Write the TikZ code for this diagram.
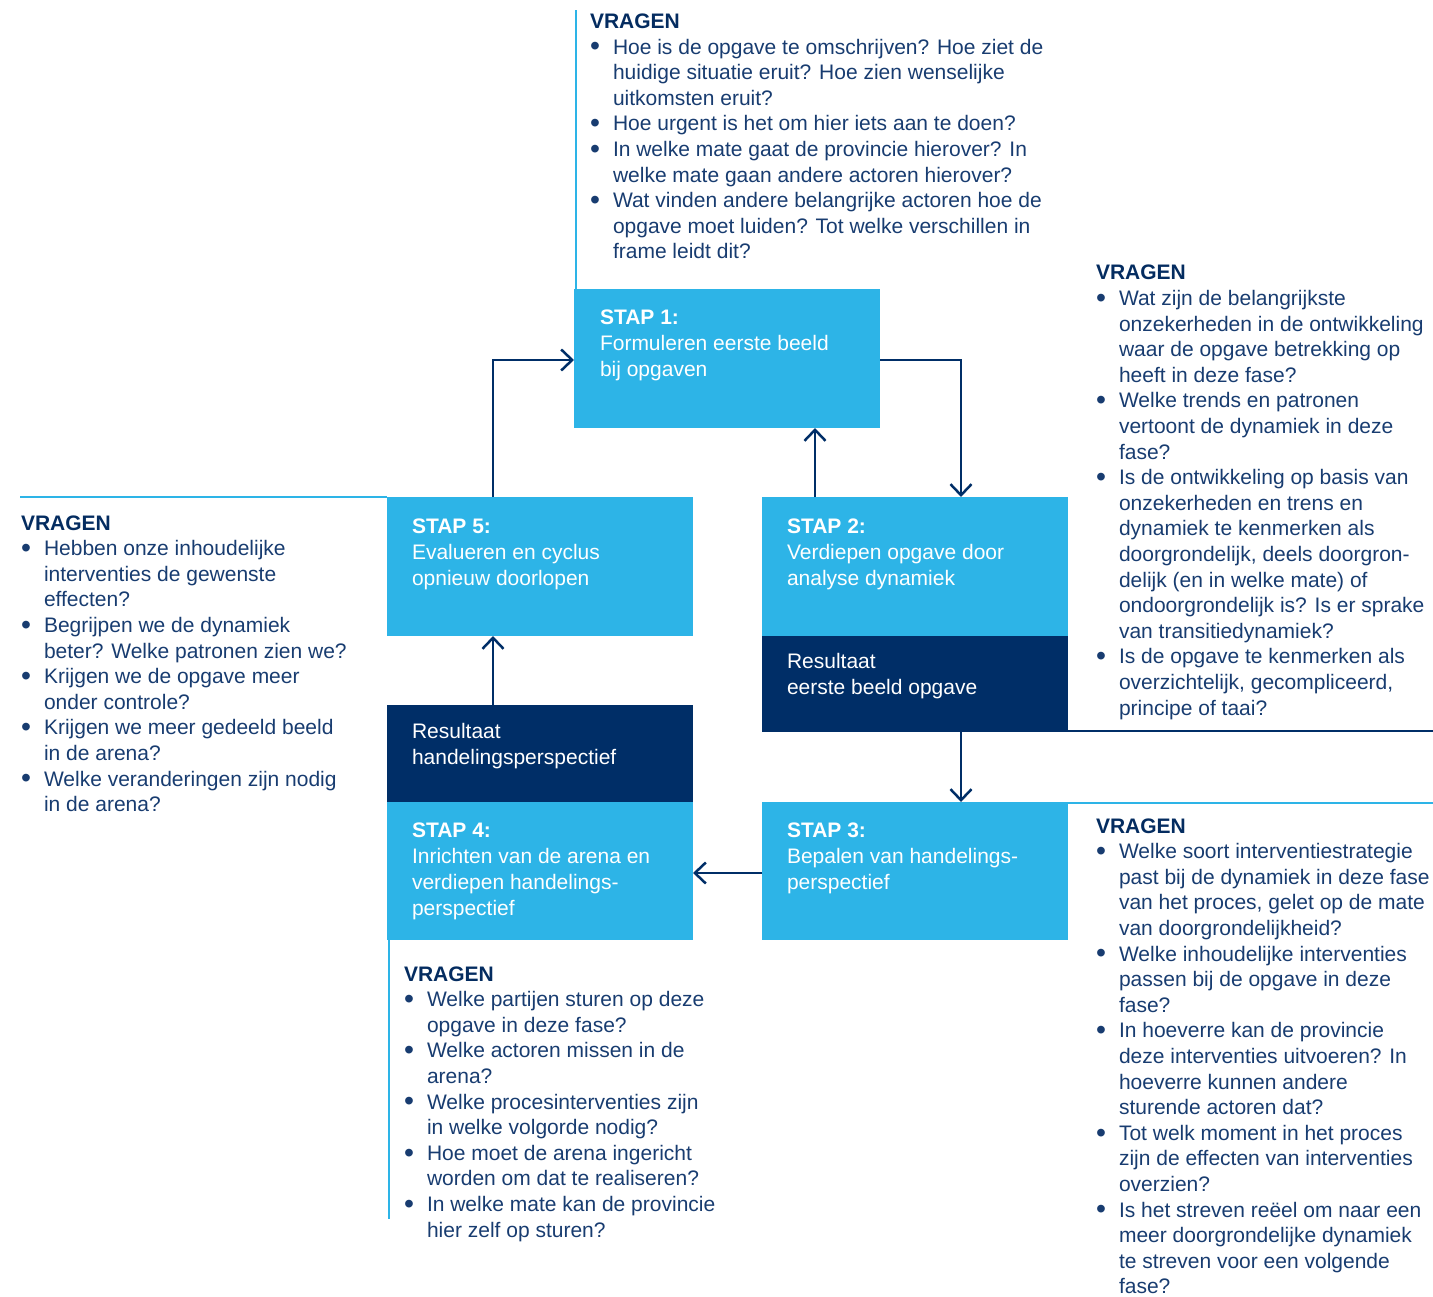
\documentclass[tikz,border=0pt]{standalone}
\usepackage{graphicx}
\usepackage{fontspec}
\setmainfont{Liberation Sans}
\usetikzlibrary{arrows.meta,calc}

\definecolor{lightb}{RGB}{45,180,231}
\definecolor{navy}{RGB}{0,46,103}
\definecolor{qtext}{RGB}{24,60,112}
\definecolor{qhead}{RGB}{4,44,96}

% one line of a question block: heading, bulleted first line, continuation line
\newcommand\qdot{\raisebox{-1.8pt}{\scalebox{1.35}{\textbullet}}}
\newcommand\qhd[1]{\hbox{\bfseries\color{qhead}#1}}
\newcommand\qbul[1]{\hbox{\makebox[23pt][l]{\qdot}#1}}
\newcommand\qcon[1]{\hbox{\kern23pt #1}}
% one line of text inside a step box
\newcommand\bx[1]{\hbox{#1}}

\tikzset{
  stepbox/.style={fill=lightb, draw=none, inner sep=0pt, outer sep=0pt,
    minimum width=306pt, minimum height=139pt, anchor=north west},
  resbox/.style={stepbox, fill=navy, minimum height=96pt},
  qblock/.style={anchor=base west, inner sep=0pt, outer sep=0pt, text=qtext,
    font=\fontsize{21}{25.6}\selectfont},
  boxtext/.style={anchor=base west, inner sep=0pt, outer sep=0pt, text=white,
    font=\fontsize{21}{26}\selectfont},
  arr/.style={draw=navy, line width=2.5pt,
    -{Straight Barb[length=11pt,width=21pt,line width=2.5pt]}},
  sepline/.style={draw=lightb, line width=2.7pt},
  darkline/.style={draw=navy, line width=2.7pt},
}

\begin{document}
\begin{tikzpicture}[x=1pt,y=-1pt]
\useasboundingbox (0,0) rectangle (1433,1297);

% ---------- step and result boxes ----------
\node[stepbox] (s1) at (574,289) {};
\node[stepbox] (s5) at (387,497) {};
\node[stepbox] (s2) at (762,497) {};
\node[resbox]  (r2) at (762,636) {};
\node[resbox, minimum height=97pt] (r4) at (387,705) {};
\node[stepbox, minimum height=138pt] (s4) at (387,802) {};
\node[stepbox, minimum height=138pt] (s3) at (762,802) {};

% ---------- box texts ----------
\node[boxtext] (t1) at ($(s1.north west)+(26,36)$)
  {\vtop{\bx{\bfseries STAP 1:}\bx{Formuleren eerste beeld}\bx{bij opgaven}}};
\node[boxtext] (t5) at ($(s5.north west)+(25,36)$)
  {\vtop{\bx{\bfseries STAP 5:}\bx{Evalueren en cyclus}\bx{opnieuw doorlopen}}};
\node[boxtext] (t2) at ($(s2.north west)+(25,36)$)
  {\vtop{\bx{\bfseries STAP 2:}\bx{Verdiepen opgave door}\bx{analyse dynamiek}}};
\node[boxtext] (tr2) at ($(r2.north west)+(25,32)$)
  {\vtop{\bx{Resultaat}\bx{eerste beeld opgave}}};
\node[boxtext] (tr4) at ($(r4.north west)+(25,33)$)
  {\vtop{\bx{Resultaat}\bx{handelingsperspectief}}};
\node[boxtext] (t4) at ($(s4.north west)+(25,35)$)
  {\vtop{\bx{\bfseries STAP 4:}\bx{Inrichten van de arena en}\bx{verdiepen handelings-}\bx{perspectief}}};
\node[boxtext] (t3) at ($(s3.north west)+(25,35)$)
  {\vtop{\bx{\bfseries STAP 3:}\bx{Bepalen van handelings-}\bx{perspectief}}};

% ---------- separator lines next to the question blocks ----------
\draw[sepline] ([xshift=2pt]s1.north west) -- ++(0,-279);
\draw[sepline] (s5.north west) -- ++(-367,0);
\draw[darkline] ([yshift=1pt]r2.south east) -- ++(365,0);
\draw[sepline] ([yshift=-1pt]s3.north east) -- ++(365,0);
\draw[sepline] ([xshift=2pt]s4.south west) -- ++(0,279);

% ---------- cycle arrows ----------
\draw[arr] ([xshift=106pt]s5.north west) |- ([yshift=-1.5pt]s1.west);
\draw[arr] ([yshift=-1.5pt]s1.east) -| ([xshift=199pt]s2.north west);
\draw[arr] ([xshift=53pt]s2.north west) -- ([xshift=53pt]s2.north west |- s1.south);
\draw[arr] ([xshift=199pt]r2.south west) -- ([xshift=199pt]s3.north west);
\draw[arr] ([yshift=-2pt]s3.west) -- ([yshift=-2pt]s4.east);
\draw[arr] ([xshift=106pt]r4.north west) -- ([xshift=106pt]s5.south west);

% ---------- question blocks ----------
\node[qblock] (q1) at (590,28.5) {\vtop{%
  \qhd{VRAGEN}
  \qbul{Hoe is de opgave te omschrijven? Hoe ziet de}
  \qcon{huidige situatie eruit? Hoe zien wenselijke}
  \qcon{uitkomsten eruit?}
  \qbul{Hoe urgent is het om hier iets aan te doen?}
  \qbul{In welke mate gaat de provincie hierover? In}
  \qcon{welke mate gaan andere actoren hierover?}
  \qbul{Wat vinden andere belangrijke actoren hoe de}
  \qcon{opgave moet luiden? Tot welke verschillen in}
  \qcon{frame leidt dit?}}};

\node[qblock] (q2) at (1096,280) {\vtop{%
  \qhd{VRAGEN}
  \qbul{Wat zijn de belangrijkste}
  \qcon{onzekerheden in de ontwikkeling}
  \qcon{waar de opgave betrekking op}
  \qcon{heeft in deze fase?}
  \qbul{Welke trends en patronen}
  \qcon{vertoont de dynamiek in deze}
  \qcon{fase?}
  \qbul{Is de ontwikkeling op basis van}
  \qcon{onzekerheden en trens en}
  \qcon{dynamiek te kenmerken als}
  \qcon{doorgrondelijk, deels doorgron-}
  \qcon{delijk (en in welke mate) of}
  \qcon{ondoorgrondelijk is? Is er sprake}
  \qcon{van transitiedynamiek?}
  \qbul{Is de opgave te kenmerken als}
  \qcon{overzichtelijk, gecompliceerd,}
  \qcon{principe of taai?}}};

\node[qblock] (q5) at (21,530) {\vtop{%
  \qhd{VRAGEN}
  \qbul{Hebben onze inhoudelijke}
  \qcon{interventies de gewenste}
  \qcon{effecten?}
  \qbul{Begrijpen we de dynamiek}
  \qcon{beter? Welke patronen zien we?}
  \qbul{Krijgen we de opgave meer}
  \qcon{onder controle?}
  \qbul{Krijgen we meer gedeeld beeld}
  \qcon{in de arena?}
  \qbul{Welke veranderingen zijn nodig}
  \qcon{in de arena?}}};

\node[qblock] (q3) at (1096,833) {\vtop{%
  \qhd{VRAGEN}
  \qbul{Welke soort interventiestrategie}
  \qcon{past bij de dynamiek in deze fase}
  \qcon{van het proces, gelet op de mate}
  \qcon{van doorgrondelijkheid?}
  \qbul{Welke inhoudelijke interventies}
  \qcon{passen bij de opgave in deze}
  \qcon{fase?}
  \qbul{In hoeverre kan de provincie}
  \qcon{deze interventies uitvoeren? In}
  \qcon{hoeverre kunnen andere}
  \qcon{sturende actoren dat?}
  \qbul{Tot welk moment in het proces}
  \qcon{zijn de effecten van interventies}
  \qcon{overzien?}
  \qbul{Is het streven reëel om naar een}
  \qcon{meer doorgrondelijke dynamiek}
  \qcon{te streven voor een volgende}
  \qcon{fase?}}};

\node[qblock] (q4) at (404,981) {\vtop{%
  \qhd{VRAGEN}
  \qbul{Welke partijen sturen op deze}
  \qcon{opgave in deze fase?}
  \qbul{Welke actoren missen in de}
  \qcon{arena?}
  \qbul{Welke procesinterventies zijn}
  \qcon{in welke volgorde nodig?}
  \qbul{Hoe moet de arena ingericht}
  \qcon{worden om dat te realiseren?}
  \qbul{In welke mate kan de provincie}
  \qcon{hier zelf op sturen?}}};
\end{tikzpicture}
\end{document}
